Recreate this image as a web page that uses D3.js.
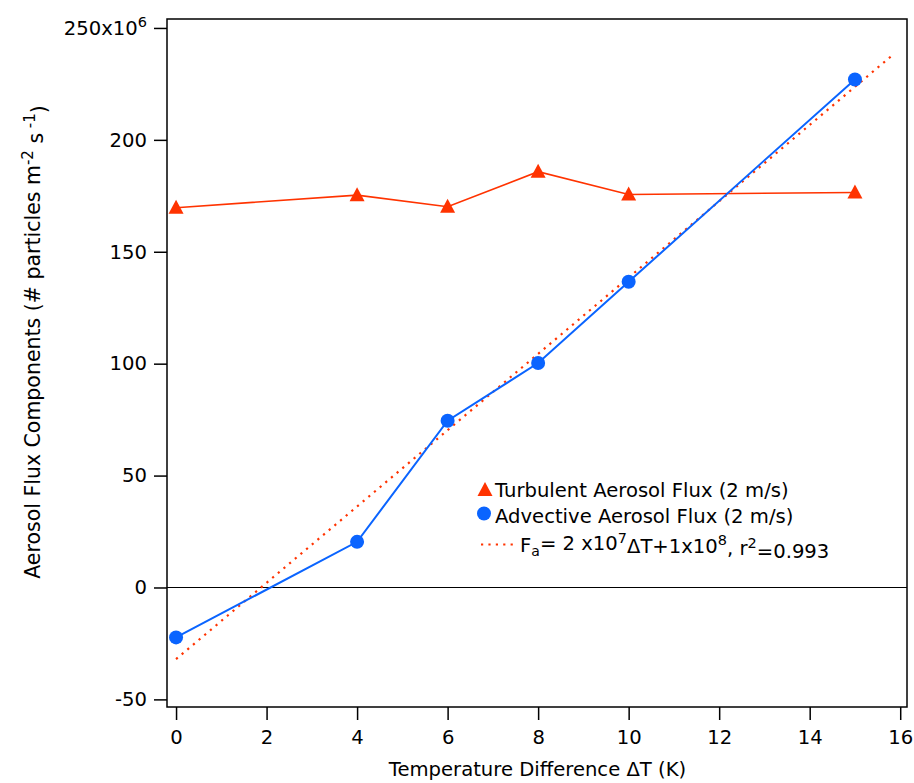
<!DOCTYPE html>
<html><head><meta charset="utf-8">
<script src="https://cdn.jsdelivr.net/npm/d3@7"></script>
<style>
body{margin:0;background:#fff;}
text{font-family:"DejaVu Sans",sans-serif;fill:#000;}
</style></head>
<body>
<svg id="c" width="914" height="783"></svg>
<script>
const deltaT = [0, 4, 6, 8, 10, 15];
const turbulent = [169.7, 175.3, 170.1, 185.8, 175.6, 176.5];
const advective = [-22.3, 20.4, 74.5, 100.3, 136.6, 227.0];
const fitX = [0, 15.85];
const fitY = [-32.0, 238.2];
const xTicks = [0, 2, 4, 6, 8, 10, 12, 14, 16];
const yTicks = [-50, 0, 50, 100, 150, 200, 250];
const legendLabels = ["Turbulent Aerosol Flux (2 m/s)", "Advective Aerosol Flux (2 m/s)"];

const RED = "#ff3300", BLUE = "#0a64ff";
const FS = 19.6;
const svg = d3.select("#c");
const L = 167, R = 907, T = 19, B = 707;
const x = d3.scaleLinear().domain([-0.2, 16.15]).range([L, R]);
const y = d3.scaleLinear().domain([-53.4, 254]).range([B, T]);

// zero line
svg.append("line").attr("x1", L).attr("x2", R).attr("y1", y(0)).attr("y2", y(0))
  .attr("stroke", "#000").attr("stroke-width", 1.2);

// fit line
svg.append("path").datum(fitX.map((v, i) => [v, fitY[i]]))
  .attr("d", d3.line().x(d => x(d[0])).y(d => y(d[1])))
  .attr("fill", "none").attr("stroke", RED).attr("stroke-width", 2.2)
  .attr("stroke-dasharray", "2.2,5.2");

const tData = deltaT.map((v, i) => [v, turbulent[i]]);
const aData = deltaT.map((v, i) => [v, advective[i]]);
svg.append("path").datum(tData)
  .attr("d", d3.line().x(d => x(d[0])).y(d => y(d[1])))
  .attr("fill", "none").attr("stroke", RED).attr("stroke-width", 1.6);
svg.append("path").datum(aData)
  .attr("d", d3.line().x(d => x(d[0])).y(d => y(d[1])))
  .attr("fill", "none").attr("stroke", BLUE).attr("stroke-width", 2);

function tri(cx, cy) {
  return `M${cx},${cy - 8}L${cx - 7.5},${cy + 6}L${cx + 7.5},${cy + 6}Z`;
}
svg.selectAll(".tri").data(tData).enter().append("path")
  .attr("d", d => tri(x(d[0]), y(d[1]))).attr("fill", RED);
svg.selectAll(".cir").data(aData).enter().append("circle")
  .attr("cx", d => x(d[0])).attr("cy", d => y(d[1])).attr("r", 7).attr("fill", BLUE);

// frame
svg.append("rect").attr("x", L).attr("y", T).attr("width", R - L).attr("height", B - T)
  .attr("fill", "none").attr("stroke", "#000").attr("stroke-width", 1.5);

// axes
const xa = svg.append("g").attr("transform", `translate(0,${B})`)
  .call(d3.axisBottom(x).tickValues(xTicks).tickSize(13).tickPadding(10).tickFormat(d => String(d)));
xa.select(".domain").remove();
xa.selectAll("line").attr("stroke", "#000").attr("stroke-width", 1.5);
xa.selectAll("text").attr("font-size", FS).attr("font-family", "DejaVu Sans").attr("fill", "#000");

const ya = svg.append("g").attr("transform", `translate(${L},0)`)
  .call(d3.axisLeft(y).tickValues(yTicks).tickSize(13).tickPadding(7).tickFormat(d => d === 250 ? "" : String(d)));
ya.select(".domain").remove();
ya.selectAll("line").attr("stroke", "#000").attr("stroke-width", 1.5);
ya.selectAll("text").attr("font-size", FS).attr("font-family", "DejaVu Sans").attr("fill", "#000");
ya.selectAll(".tick").filter(d => d === 250).select("text")
  .each(function () {
    const t = d3.select(this);
    t.append("tspan").text("250x10");
    t.append("tspan").attr("dy", "-0.5em").attr("font-size", 14.5).text("6");
  });

// axis titles
svg.append("text").attr("x", 537.5).attr("y", 776).attr("text-anchor", "middle")
  .attr("font-size", FS).text("Temperature Difference ΔT (K)");

const yt = svg.append("text").attr("transform", "translate(40,342) rotate(-90)")
  .attr("text-anchor", "middle").attr("font-size", 20.5);
yt.append("tspan").text("Aerosol Flux Components (# particles m");
yt.append("tspan").attr("dy", "-0.5em").attr("font-size", 15).text("-2");
yt.append("tspan").attr("dy", "0.5em").text(" s");
yt.append("tspan").attr("dy", "-0.5em").attr("font-size", 15).text(" -1");
yt.append("tspan").attr("dy", "0.5em").text(")");

// legend
const lg = svg.append("g");
lg.append("path").attr("d", tri(485, 490)).attr("fill", RED);
lg.append("text").attr("x", 495).attr("y", 496.7).attr("font-size", FS).text(legendLabels[0]);
lg.append("circle").attr("cx", 484).attr("cy", 513.5).attr("r", 7).attr("fill", BLUE);
lg.append("text").attr("x", 495).attr("y", 523).attr("font-size", FS).text(legendLabels[1]);
lg.append("line").attr("x1", 481).attr("x2", 516).attr("y1", 544.5).attr("y2", 544.5)
  .attr("stroke", RED).attr("stroke-width", 2.2).attr("stroke-dasharray", "2.2,5.2");
const ft = lg.append("text").attr("x", 520).attr("y", 551.7).attr("font-size", FS);
ft.append("tspan").text("F");
ft.append("tspan").attr("dy", "0.3em").attr("font-size", 14).text("a");
ft.append("tspan").attr("dy", "-0.3em").text("= 2 x10");
ft.append("tspan").attr("dy", "-0.5em").attr("font-size", 14.5).text("7");
ft.append("tspan").attr("dy", "0.5em").text("ΔT+1x10");
ft.append("tspan").attr("dy", "-0.5em").attr("font-size", 14.5).text("8");
ft.append("tspan").attr("dy", "0.5em").text(", r");
ft.append("tspan").attr("dy", "-0.5em").attr("font-size", 14.5).text("2");
ft.append("tspan").attr("dy", "0.5em").text("=0.993");
</script>
</body></html>
